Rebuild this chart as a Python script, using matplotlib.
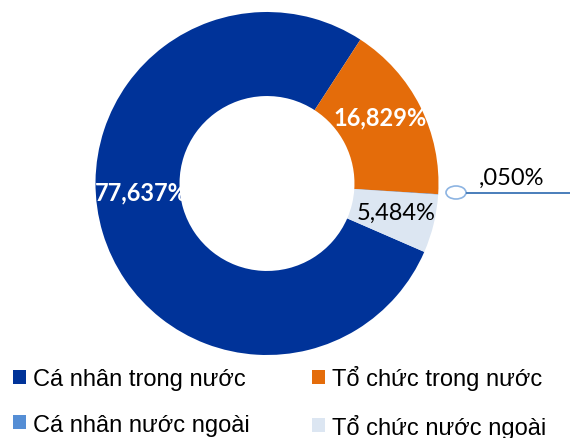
import matplotlib
matplotlib.use("Agg")
import matplotlib.pyplot as plt
from matplotlib.patches import Ellipse

categories = ["Cá nhân trong nước", "Tổ chức trong nước", "Cá nhân nước ngoài", "Tổ chức nước ngoài"]
values = [77.637, 16.829, 0.050, 5.484]
value_labels = ["77,637%", "16,829%", ",050%", "5,484%"]
colors = ["#003399", "#E46C0A", "#558ED5", "#DCE6F2"]

W, H = 570, 439
fig = plt.figure(figsize=(W / 100, H / 100), dpi=100)
cx, cy, R = 267, 184.5, 171.5
ax = fig.add_axes([(cx - R) / W, (H - cy - R) / H, 2 * R / W, 2 * R / H])
wedges, _ = ax.pie(values, colors=colors, startangle=-23.5, counterclock=False,
                   radius=1, wedgeprops=dict(width=0.49, linewidth=0))
ax.set_xlim(-1, 1)
ax.set_ylim(-1, 1)
ax.set_aspect("equal")
ax.axis("off")

def px(x, y):
    return (x - cx) / R, (cy - y) / R

lab_font = "Lato"
fs = 17
x, y = px(141, 193)
ax.text(x, y, value_labels[0], color="white", fontsize=fs, fontweight="bold",
        family=lab_font, ha="center", va="center")
x, y = px(380, 118)
ax.text(x, y, value_labels[1], color="white", fontsize=fs, fontweight="bold",
        family=lab_font, ha="center", va="center")
x, y = px(396, 213)
ax.text(x, y, value_labels[3], color="black", fontsize=fs,
        family=lab_font, ha="center", va="center")
x, y = px(511, 178)
ax.text(x, y, value_labels[2], color="black", fontsize=fs,
        family=lab_font, ha="center", va="center", clip_on=False)

# leader with callout circle
ex, ey = px(456, 193.5)
ax.add_patch(Ellipse((ex, ey), 20 / R, 13 / R, facecolor="white",
                     edgecolor="#8DB4E2", linewidth=1.2, clip_on=False))
x0, y0 = px(466, 193.5)
x1, _ = px(572, 193.5)
ax.plot([x0, x1], [y0, y0], color="#4A7EBB", linewidth=1.4, clip_on=False,
        solid_capstyle="butt")

order = [0, 2, 1, 3]
leg = fig.legend([wedges[i] for i in order], [categories[i] for i in order],
                 ncol=2, loc="upper left", bbox_to_anchor=(13 / W, 1 - 366.5 / H),
                 frameon=False, borderpad=0, borderaxespad=0,
                 prop=dict(family="Liberation Sans", size=17),
                 handlelength=0.55, handleheight=0.55, handletextpad=0.29,
                 columnspacing=2.63, labelspacing=0.98)

fig.savefig("out.png", dpi=100)
